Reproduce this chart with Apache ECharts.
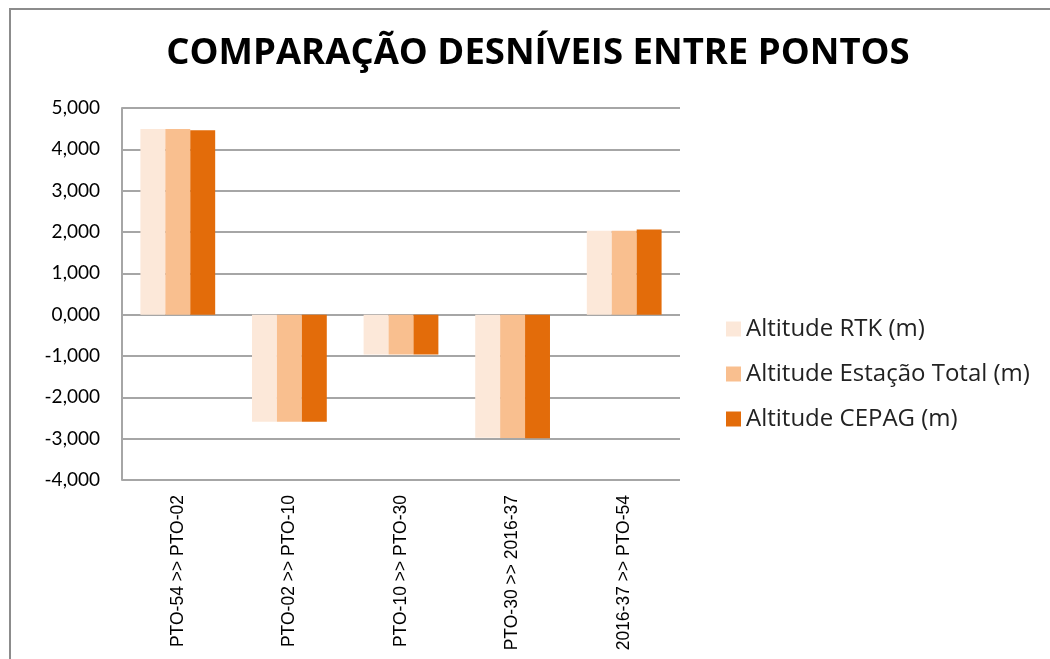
<!DOCTYPE html>
<html>
<head>
<meta charset="utf-8">
<script src="https://cdn.jsdelivr.net/npm/echarts@6/dist/echarts.min.js"></script>
<style>
  html, body { margin: 0; padding: 0; background: #fff; }
  #chart { width: 1050px; height: 659px; }
</style>
</head>
<body>
<div id="chart"></div>
<script>
// trechos entre pontos
const categories = ["PTO-54 >> PTO-02", "PTO-02 >> PTO-10", "PTO-10 >> PTO-30", "PTO-30 >> 2016-37", "2016-37 >> PTO-54"];
// desníveis (m)
const altRTK = [4.490, -2.590, -0.965, -2.975, 2.030];
const altEstacao = [4.490, -2.590, -0.965, -2.985, 2.030];
const altCEPAG = [4.460, -2.590, -0.965, -2.990, 2.060];
const seriesNames = ["Altitude RTK (m)", "Altitude Estação Total (m)", "Altitude CEPAG (m)"];
const colors = ["#FCE8D9", "#F9BF8F", "#E36C0A"];

const chart = echarts.init(document.getElementById("chart"));
const fmt = v => v.toFixed(3).replace(".", ",");

const option = {
  backgroundColor: "#fff",
  color: colors,
  animation: false,
  title: {
    text: "COMPARAÇÃO DESNÍVEIS ENTRE PONTOS",
    left: 533,
    textAlign: "center",
    top: 30,
    textStyle: {
      fontFamily: "Open Sans",
      fontWeight: "bold",
      fontSize: 36.5,
      color: "#000"
    }
  },
  legend: {
    orient: "vertical",
    left: 721,
    top: 312,
    itemWidth: 15,
    itemHeight: 15,
    itemGap: 21,
    icon: "rect",
    textStyle: {
      fontFamily: "Open Sans",
      fontSize: 24,
      color: "#222"
    },
    data: seriesNames
  },
  grid: {
    left: 122,
    right: 370,
    top: 108,
    bottom: 179,
    containLabel: false
  },
  xAxis: {
    type: "category",
    data: categories,
    position: "bottom",
    axisLine: { show: false, onZero: false },
    axisTick: { show: false },
    axisLabel: {
      rotate: 90,
      margin: 15,
      fontFamily: "Liberation Sans",
      fontSize: 17.5,
      color: "#000"
    }
  },
  yAxis: {
    type: "value",
    min: -4,
    max: 5,
    interval: 1,
    axisLine: { show: true, lineStyle: { color: "#A6A6A6", width: 2 } },
    axisTick: { show: false },
    splitLine: { lineStyle: { color: "#A6A6A6", width: 2 } },
    axisLabel: {
      formatter: fmt,
      margin: 22,
      fontFamily: "Lato",
      fontSize: 19,
      color: "#000"
    }
  },
  graphic: [
    {
      type: "rect",
      shape: { x: 10, y: 9, width: 1100, height: 700 },
      style: { fill: "none", stroke: "#8C8C8C", lineWidth: 2 },
      silent: true
    }
  ],
  series: [
    { name: seriesNames[0], type: "bar", data: altRTK, barGap: 0, barCategoryGap: "33%" },
    { name: seriesNames[1], type: "bar", data: altEstacao, barGap: 0, barCategoryGap: "33%" },
    { name: seriesNames[2], type: "bar", data: altCEPAG, barGap: 0, barCategoryGap: "33%" }
  ]
};

chart.setOption(option);
</script>
</body>
</html>
